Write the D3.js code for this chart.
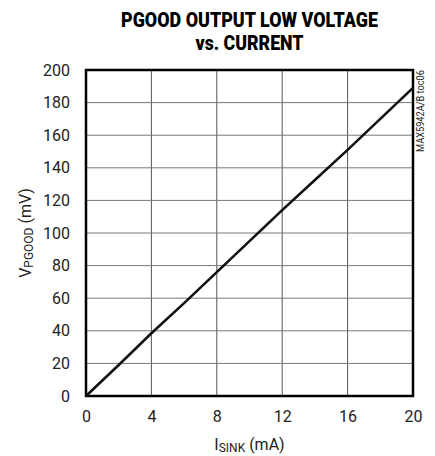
<!DOCTYPE html>
<html>
<head>
<meta charset="utf-8">
<script src="https://cdn.jsdelivr.net/npm/d3@7"></script>
<style>
  body { margin: 0; background: #fff; }
  svg { display: block; }
  text { font-family: "Roboto", "Liberation Sans Narrow", "DejaVu Sans Condensed", sans-serif; fill: #222; }
  .title { font-weight: 900; font-size: 21px; fill: #000; }
</style>
</head>
<body>
<div id="chart"></div>
<script>
// PGOOD output low voltage vs sink current
const currentMA = [0, 2, 4, 6, 8, 10, 12, 14, 16, 18, 20];
const vPgoodMV = [0, 19, 38.5, 57, 76, 95, 114, 132.5, 151, 170, 189];
const xTicks = [0, 4, 8, 12, 16, 20];
const yTicks = [0, 20, 40, 60, 80, 100, 120, 140, 160, 180, 200];
const titleLines = ['PGOOD OUTPUT LOW VOLTAGE', 'vs. CURRENT'];
const titleWidths = [257, 108];

const width = 435, height = 456;
const margin = { top: 70, right: 22, bottom: 60, left: 86 };
const innerW = width - margin.left - margin.right;
const innerH = height - margin.top - margin.bottom;

const svg = d3.select('#chart').append('svg').attr('width', width).attr('height', height);
const g = svg.append('g').attr('transform', `translate(${margin.left},${margin.top})`);

const x = d3.scaleLinear().domain([0, 20]).range([0, innerW]);
const y = d3.scaleLinear().domain([0, 200]).range([innerH, 0]);

// grid
g.append('g').selectAll('line').data(xTicks.slice(1, -1)).join('line')
  .attr('x1', d => x(d)).attr('x2', d => x(d)).attr('y1', 0).attr('y2', innerH)
  .attr('stroke', '#555').attr('stroke-width', 1);
g.append('g').selectAll('line').data(yTicks.slice(1, -1)).join('line')
  .attr('y1', d => y(d)).attr('y2', d => y(d)).attr('x1', 0).attr('x2', innerW)
  .attr('stroke', '#777').attr('stroke-width', 1);

// axes (labels only)
const xAxis = g.append('g').attr('transform', `translate(0,${innerH})`)
  .call(d3.axisBottom(x).tickValues(xTicks).tickSize(0).tickPadding(15));
const yAxis = g.append('g')
  .call(d3.axisLeft(y).tickValues(yTicks).tickSize(0).tickPadding(16));
[xAxis, yAxis].forEach(a => {
  a.select('.domain').remove();
  a.selectAll('text').style('font-size', '16px').style('font-family', null).attr('fill', '#222');
});

// frame
g.append('rect').attr('width', innerW).attr('height', innerH)
  .attr('fill', 'none').attr('stroke', '#000').attr('stroke-width', 2.5);

// data line
const line = d3.line().x((d, i) => x(currentMA[i])).y(d => y(d));
g.append('path').datum(vPgoodMV).attr('d', line)
  .attr('fill', 'none').attr('stroke', '#111').attr('stroke-width', 2.6);

// title
svg.append('g').selectAll('text').data(titleLines).join('text')
  .attr('class', 'title').attr('x', margin.left + innerW / 2).attr('y', (d, i) => 27 + i * 23)
  .attr('text-anchor', 'middle')
  .attr('textLength', (d, i) => titleWidths[i]).attr('lengthAdjust', 'spacingAndGlyphs')
  .text(d => d);

// axis titles
const xt = svg.append('text').attr('x', margin.left + innerW / 2).attr('y', 450)
  .attr('text-anchor', 'middle').style('font-size', '16px');
xt.append('tspan').text('I');
xt.append('tspan').attr('dy', 2).style('font-size', '12px').text('SINK');
xt.append('tspan').attr('dy', -2).text(' (mA)');

const yt = svg.append('text').attr('transform', `translate(31,${margin.top + innerH / 2}) rotate(-90)`)
  .attr('text-anchor', 'middle').style('font-size', '16px');
yt.append('tspan').text('V');
yt.append('tspan').attr('dy', 2).style('font-size', '12px').text('PGOOD');
yt.append('tspan').attr('dy', -2).text(' (mV)');

// part number tag
svg.append('text').attr('transform', `translate(424,${margin.top}) rotate(-90)`)
  .attr('text-anchor', 'end').style('font-size', '10px')
  .attr('textLength', 82).attr('lengthAdjust', 'spacingAndGlyphs').text('MAX5942A/B toc06');
</script>
</body>
</html>
